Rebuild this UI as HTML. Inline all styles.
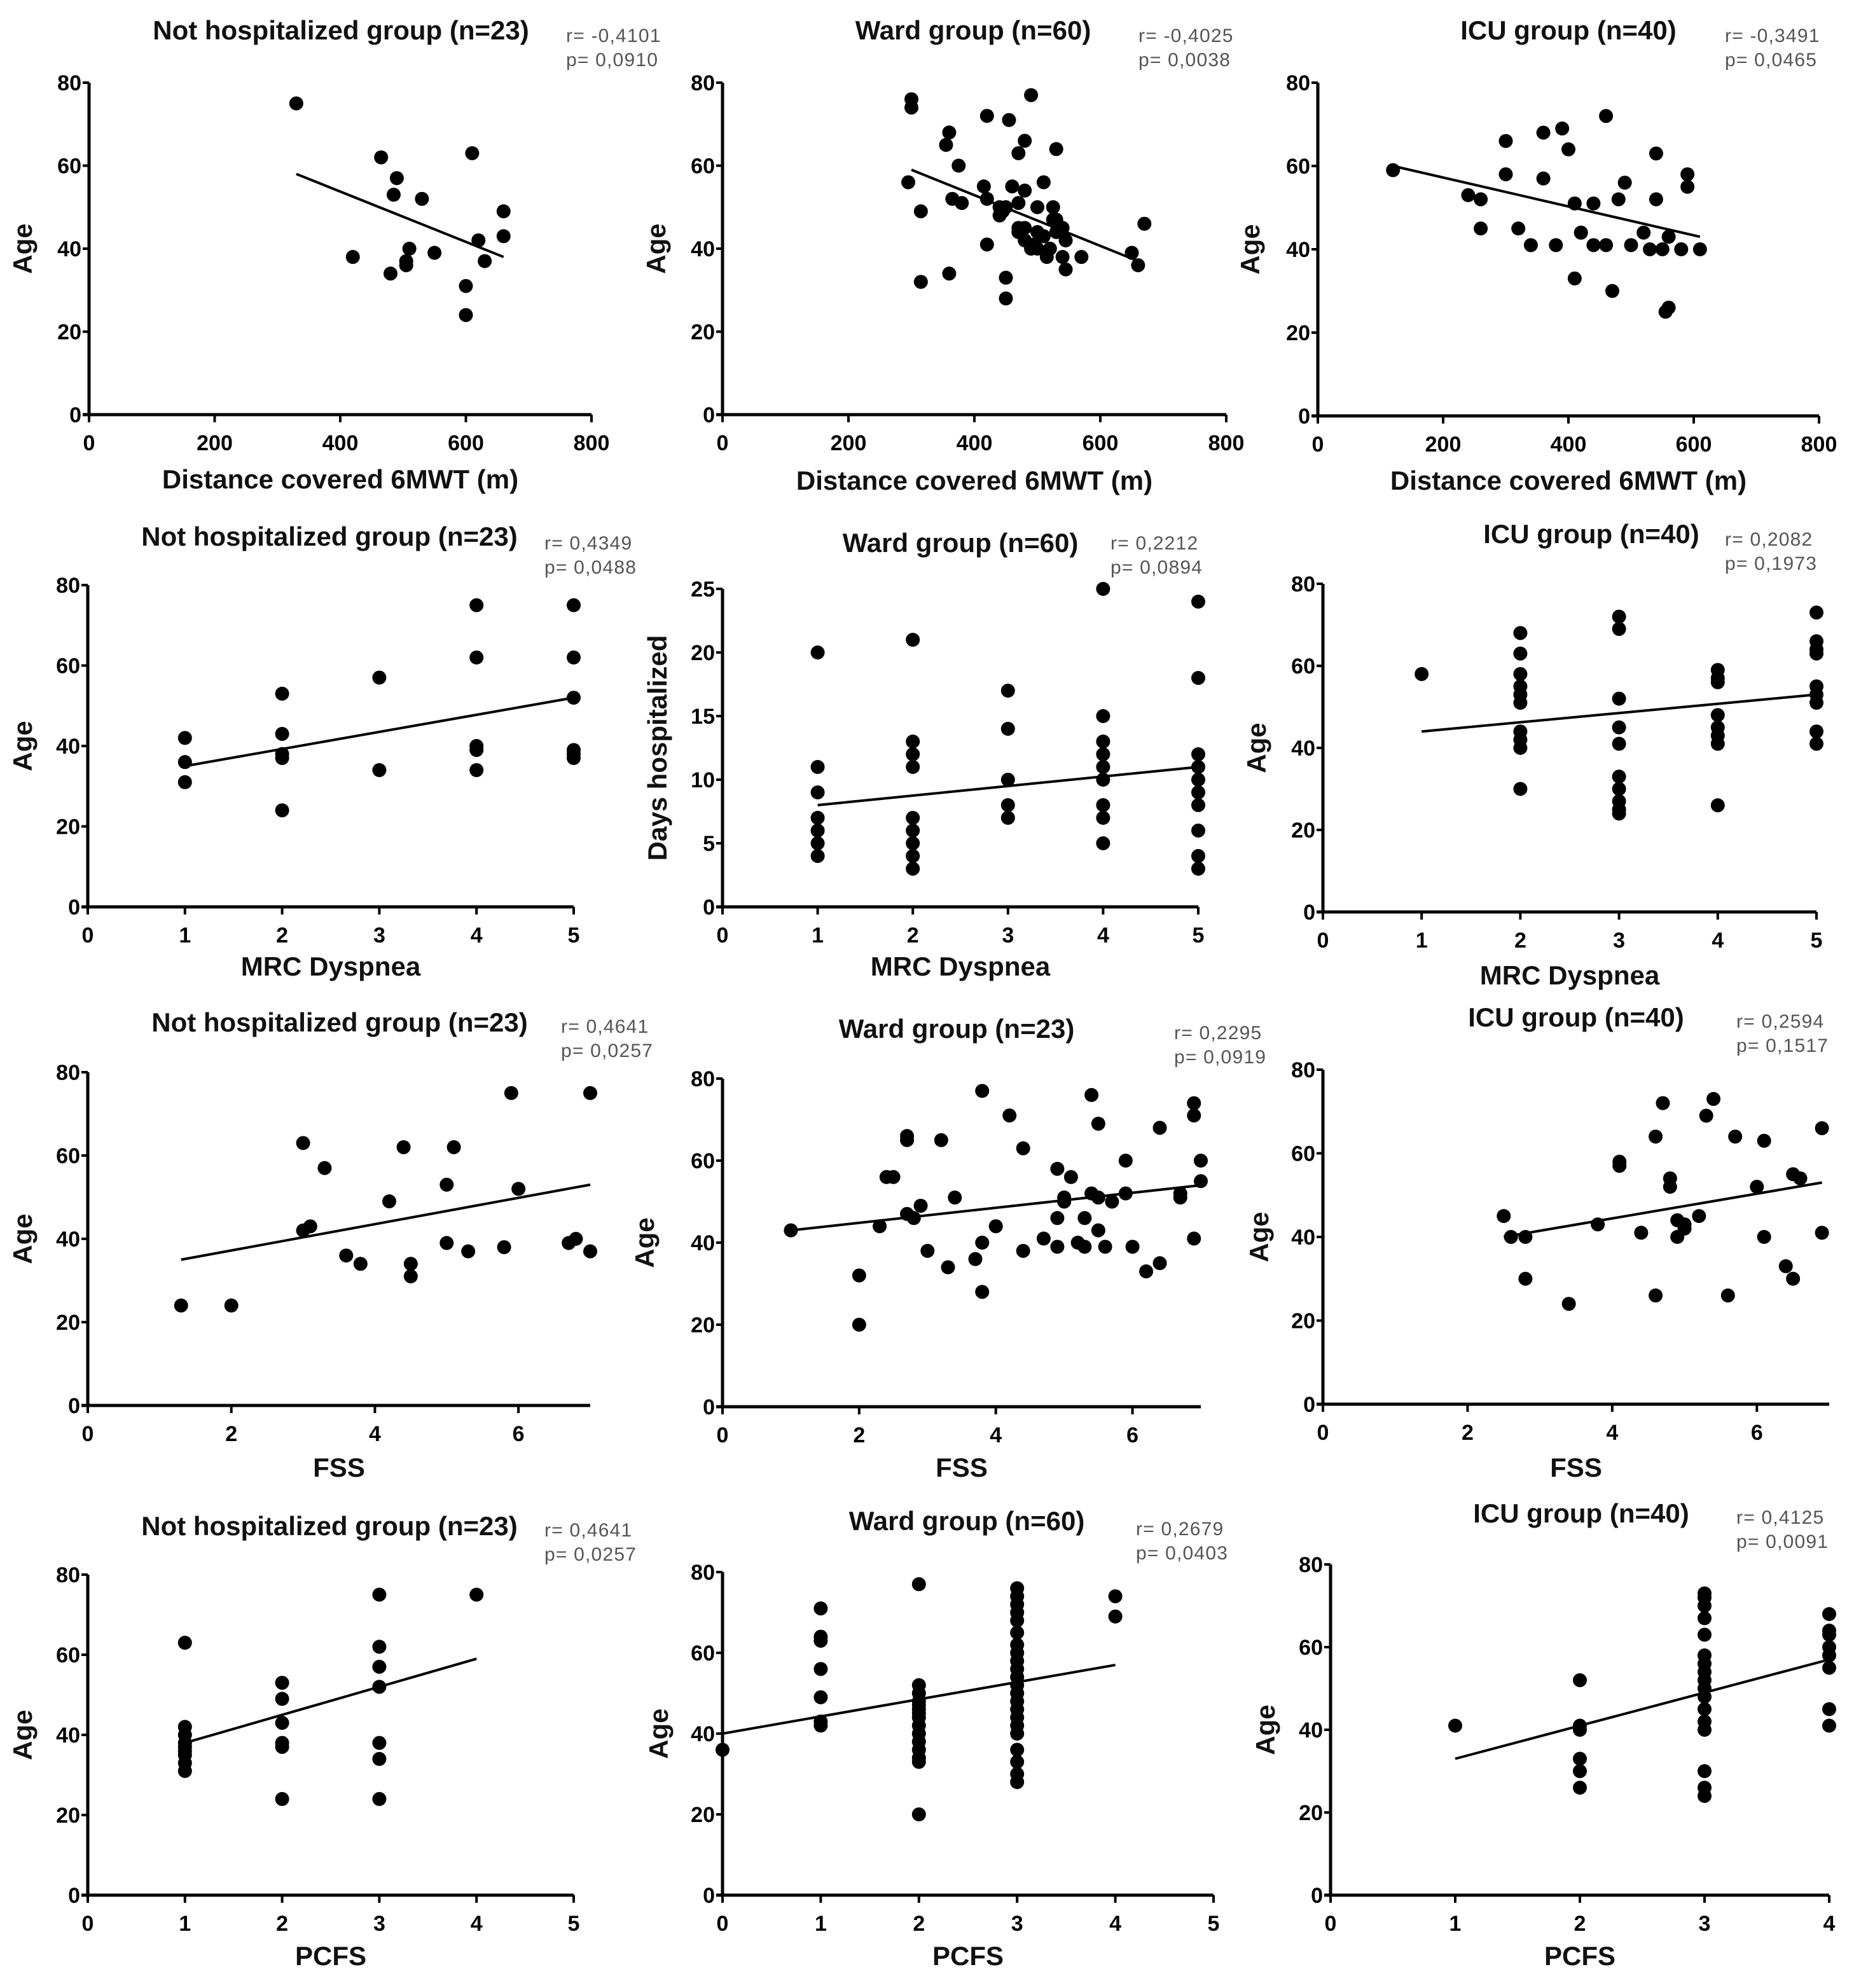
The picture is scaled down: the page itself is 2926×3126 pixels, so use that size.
<!DOCTYPE html>
<html><head><meta charset="utf-8"><style>
html,body{margin:0;padding:0;background:#fff;}
svg{display:block;}
text{font-family:"Liberation Sans",Arial,sans-serif;}
</style></head>
<body>
<svg id="fig" width="2926" height="3126" viewBox="0 0 1463 1563" xmlns="http://www.w3.org/2000/svg"></svg>
<script>
// ---- data (one set of small arrays per panel) ----
const p1X=[330,465,490,485,530,610,660,660,620,420,510,505,505,550,480,630,600,600];
const p1Y=[75,62,57,53,52,63,49,43,42,38,40,37,36,39,34,37,31,24];
const p1FitX=[330,660]; const p1FitY=[58,38];
const p2X=[300,300,360,355,420,455,490,470,480,295,315,315,375,365,380,360,415,420,420,445,440,460,470,480,500,510,530,525,530,540,520,540,545,545,470,480,490,500,510,480,450,450,570,650,660,670,440,450,500,530,525,515,470,495];
const p2Y=[76,74,68,65,72,71,77,63,66,56,49,32,60,52,51,34,55,52,41,49,50,55,51,54,50,56,64,50,47,45,40,38,35,42,44,42,40,40,43,45,33,28,38,39,36,46,48,50,44,44,47,38,45,41];
const p2FitX=[300,660]; const p2FitY=[59,37];
const p3X=[120,240,260,260,300,300,320,360,340,360,390,400,410,420,410,440,460,460,470,480,490,520,540,540,530,550,560,555,560,580,590,590,610,380,440,500,420];
const p3Y=[59,53,45,52,58,66,45,68,41,57,69,64,51,44,33,41,72,41,30,52,56,44,63,52,40,40,43,25,26,40,58,55,40,41,51,41,44];
const p3FitX=[120,610]; const p3FitY=[60,43];
const p4X=[1,1,1,2,2,2,2,2,3,3,4,4,4,4,4,5,5,5,5,5,5];
const p4Y=[42,36,31,53,43,37,38,24,57,34,75,62,40,39,34,75,62,52,39,37,38];
const p4FitX=[1,5]; const p4FitY=[35,52];
const p5X=[1,1,1,1,1,1,1,2,2,2,2,2,2,2,2,2,3,3,3,3,3,4,4,4,4,4,4,4,4,4,5,5,5,5,5,5,5,5,5,5];
const p5Y=[20,11,9,7,6,5,4,21,13,12,11,7,6,5,4,3,17,14,10,8,7,25,15,13,12,11,10,8,7,5,24,18,12,11,10,9,8,6,4,3];
const p5FitX=[1,5]; const p5FitY=[8,11];
const p6X=[1,2,2,2,2,2,2,2,2,2,2,3,3,3,3,3,3,3,3,3,3,4,4,4,4,4,4,4,4,5,5,5,5,5,5,5,5,5];
const p6Y=[58,68,63,58,55,53,51,44,42,40,30,72,69,52,45,41,33,30,27,25,24,59,57,56,48,45,43,41,26,73,66,64,63,55,53,51,44,41];
const p6FitX=[1,5]; const p6FitY=[44,53];
const p7X=[1.3,2,3,3,3.1,3.3,3.6,3.8,4.2,4.4,4.5,4.5,5,5,5.1,5.3,5.8,5.9,6,6.7,6.8,7,7];
const p7Y=[24,24,63,42,43,57,36,34,49,62,34,31,53,39,62,37,38,75,52,39,40,75,37];
const p7FitX=[1.3,7]; const p7FitY=[35,53];
const p8X=[1,2,2,2.3,2.4,2.5,2.7,2.7,2.7,2.8,2.9,3,3.2,3.3,3.4,3.7,3.8,3.8,3.8,4,4.2,4.4,4.4,4.7,4.9,4.9,4.9,5,5,5.1,5.2,5.3,5.3,5.4,5.4,5.5,5.5,5.5,5.6,5.7,5.9,5.9,6,6.2,6.4,6.4,6.7,6.7,6.9,6.9,6.9,7,7];
const p8Y=[43,32,20,44,56,56,66,65,47,46,49,38,65,34,51,36,77,40,28,44,71,38,63,41,58,46,39,50,51,56,40,39,46,52,76,51,43,69,39,50,60,52,39,33,35,68,51,52,74,71,41,60,55];
const p8FitX=[1,7]; const p8FitY=[43,54];
const p9X=[2.5,2.6,2.8,2.8,3.4,3.8,4.1,4.1,4.4,4.6,4.6,4.7,4.8,4.8,4.9,4.9,5,5,5.2,5.3,5.4,5.6,5.7,6,6.1,6.1,6.4,6.5,6.5,6.6,6.9,6.9];
const p9Y=[45,40,40,30,24,43,58,57,41,64,26,72,52,54,40,44,43,42,45,69,73,26,64,52,63,40,33,55,30,54,66,41];
const p9FitX=[2.5,6.9]; const p9FitY=[40,53];
const p10X=[1,1,1,1,1,1,1,1,1,2,2,2,2,2,2,3,3,3,3,3,3,3,4];
const p10Y=[63,42,40,38,37,36,35,33,31,53,49,43,38,37,24,75,62,57,52,38,34,24,75];
const p10FitX=[1,4]; const p10FitY=[38,59];
const p11X=[0,1,1,1,1,1,1,1,2,2,2,2,2,2,2,2,2,2,2,2,2,2,2,3,3,3,3,3,3,3,3,3,3,3,3,3,3,3,3,3,3,3,3,3,3,4,4];
const p11Y=[36,71,64,63,56,49,43,42,77,52,50,48,46,44,42,40,38,36,34,33,20,47,45,76,74,72,70,68,65,62,60,58,56,54,52,50,48,46,44,42,40,36,33,30,28,74,69];
const p11FitX=[0,4]; const p11FitY=[40,57];
const p12X=[1,2,2,2,2,2,2,3,3,3,3,3,3,3,3,3,3,3,3,3,3,3,3,3,4,4,4,4,4,4,4,4];
const p12Y=[41,52,41,40,33,30,26,73,72,70,67,63,58,56,54,52,50,48,45,42,40,30,26,24,68,64,63,60,58,55,45,41];
const p12FitX=[1,4]; const p12FitY=[33,57];
const ageTicks=[0,20,40,60,80];
const daysTicks=[0,5,10,15,20,25];
const distTicks=[0,200,400,600,800];
const mrcTicks=[0,1,2,3,4,5];
const fssTicks=[0,2,4,6];
const pcfsTicks=[0,1,2,3,4,5];
const pcfsTicks4=[0,1,2,3,4];

// ---- layout ----
const panels=[
 {n:1,xs:p1X,ys:p1Y,fx:p1FitX,fy:p1FitY,x0:70,x1:465,xmax:800,y0:326,y1:65,ymax:80,xt:distTicks,yt:ageTicks,title:"Not hospitalized group (n=23)",tx:268,ty:31,r:"r= -0,4101",p:"p= 0,0910",sx:445,sy:33,xl:"Distance covered 6MWT (m)",xly:384,yl:"Age",ylx:25},
 {n:2,xs:p2X,ys:p2Y,fx:p2FitX,fy:p2FitY,x0:568,x1:964,xmax:800,y0:326,y1:65,ymax:80,xt:distTicks,yt:ageTicks,title:"Ward group (n=60)",tx:765,ty:31,r:"r= -0,4025",p:"p= 0,0038",sx:895,sy:33,xl:"Distance covered 6MWT (m)",xly:385,yl:"Age",ylx:523},
 {n:3,xs:p3X,ys:p3Y,fx:p3FitX,fy:p3FitY,x0:1036,x1:1430,xmax:800,y0:327,y1:65,ymax:80,xt:distTicks,yt:ageTicks,title:"ICU group (n=40)",tx:1233,ty:31,r:"r= -0,3491",p:"p= 0,0465",sx:1356,sy:33,xl:"Distance covered 6MWT (m)",xly:385,yl:"Age",ylx:990},
 {n:4,xs:p4X,ys:p4Y,fx:p4FitX,fy:p4FitY,x0:69,x1:451,xmax:5,y0:713,y1:460,ymax:80,xt:mrcTicks,yt:ageTicks,title:"Not hospitalized group (n=23)",tx:259,ty:429,r:"r= 0,4349",p:"p= 0,0488",sx:428,sy:432,xl:"MRC Dyspnea",xly:767,yl:"Age",ylx:25},
 {n:5,xs:p5X,ys:p5Y,fx:p5FitX,fy:p5FitY,x0:568,x1:942,xmax:5,y0:713,y1:463,ymax:25,xt:mrcTicks,yt:daysTicks,title:"Ward group (n=60)",tx:755,ty:434,r:"r= 0,2212",p:"p= 0,0894",sx:873,sy:432,xl:"MRC Dyspnea",xly:767,yl:"Days hospitalized",ylx:524},
 {n:6,xs:p6X,ys:p6Y,fx:p6FitX,fy:p6FitY,x0:1040,x1:1428,xmax:5,y0:717,y1:459,ymax:80,xt:mrcTicks,yt:ageTicks,title:"ICU group (n=40)",tx:1251,ty:427,r:"r= 0,2082",p:"p= 0,1973",sx:1356,sy:429,xl:"MRC Dyspnea",xly:774,yl:"Age",ylx:995},
 {n:7,xs:p7X,ys:p7Y,fx:p7FitX,fy:p7FitY,x0:69,x1:464,xmax:7,y0:1105,y1:843,ymax:80,xt:fssTicks,yt:ageTicks,title:"Not hospitalized group (n=23)",tx:267,ty:811,r:"r= 0,4641",p:"p= 0,0257",sx:441,sy:812,xl:"FSS",xly:1161,yl:"Age",ylx:25},
 {n:8,xs:p8X,ys:p8Y,fx:p8FitX,fy:p8FitY,x0:568,x1:944,xmax:7,y0:1106,y1:848,ymax:80,xt:fssTicks,yt:ageTicks,title:"Ward group (n=23)",tx:752,ty:816,r:"r= 0,2295",p:"p= 0,0919",sx:923,sy:817,xl:"FSS",xly:1161,yl:"Age",ylx:514},
 {n:9,xs:p9X,ys:p9Y,fx:p9FitX,fy:p9FitY,x0:1040,x1:1438,xmax:7,y0:1104,y1:841,ymax:80,xt:fssTicks,yt:ageTicks,title:"ICU group (n=40)",tx:1239,ty:807,r:"r= 0,2594",p:"p= 0,1517",sx:1365,sy:808,xl:"FSS",xly:1161,yl:"Age",ylx:997},
 {n:10,xs:p10X,ys:p10Y,fx:p10FitX,fy:p10FitY,x0:69,x1:451,xmax:5,y0:1490,y1:1238,ymax:80,xt:pcfsTicks,yt:ageTicks,title:"Not hospitalized group (n=23)",tx:259,ty:1207,r:"r= 0,4641",p:"p= 0,0257",sx:428,sy:1208,xl:"PCFS",xly:1545,yl:"Age",ylx:25},
 {n:11,xs:p11X,ys:p11Y,fx:p11FitX,fy:p11FitY,x0:568,x1:954,xmax:5,y0:1490,y1:1236,ymax:80,xt:pcfsTicks,yt:ageTicks,title:"Ward group (n=60)",tx:760,ty:1203,r:"r= 0,2679",p:"p= 0,0403",sx:893,sy:1207,xl:"PCFS",xly:1545,yl:"Age",ylx:525},
 {n:12,xs:p12X,ys:p12Y,fx:p12FitX,fy:p12FitY,x0:1046,x1:1438,xmax:4,y0:1490,y1:1230,ymax:80,xt:pcfsTicks4,yt:ageTicks,title:"ICU group (n=40)",tx:1243,ty:1197,r:"r= 0,4125",p:"p= 0,0091",sx:1365,sy:1198,xl:"PCFS",xly:1545,yl:"Age",ylx:1002}
];
const NS="http://www.w3.org/2000/svg";
const svg=document.getElementById('fig');
function mk(tag,attrs,parent,txt){const e=document.createElementNS(NS,tag);for(const k in attrs)e.setAttribute(k,attrs[k]);if(txt!==undefined)e.textContent=txt;parent.appendChild(e);return e;}
panels.forEach(P=>{
  const g=mk('g',{},svg);
  
  
  const sx=v=>P.x0+(P.x1-P.x0)*v/P.xmax;
  const sy=v=>P.y0-(P.y0-P.y1)*v/P.ymax;
  const t=mk('text',{x:P.tx,y:P.ty,'text-anchor':'middle','font-size':21,'font-weight':'bold',fill:'#111'},g,P.title);
  
  
  const st=mk('text',{x:P.sx,y:P.sy,'font-size':15,'letter-spacing':0.6,fill:'#555'},g,P.r);
  
  
  const sp=mk('text',{x:P.sx,y:P.sy+19,'font-size':15,'letter-spacing':0.6,fill:'#555'},g,P.p);
  
  
  const ya=mk('line',{x1:P.x0,y1:P.y0,x2:P.x0,y2:P.y1,stroke:'#000','stroke-width':2.5},g);
  
  
  const xa=mk('line',{x1:P.x0-5,y1:P.y0,x2:P.x1,y2:P.y0,stroke:'#000','stroke-width':2.5},g);
  
  
  P.yt.forEach(v=>{
    mk('line',{x1:P.x0-5,y1:sy(v),x2:P.x0,y2:sy(v),stroke:'#000','stroke-width':2},g);
    const l=mk('text',{x:P.x0-6,y:sy(v)+6,'text-anchor':'end','font-size':17,'font-weight':'bold'},g,String(v));
    
    
  });
  P.xt.forEach(v=>{
    mk('line',{x1:sx(v),y1:P.y0,x2:sx(v),y2:P.y0+6,stroke:'#000','stroke-width':2},g);
    const l=mk('text',{x:sx(v),y:P.y0+28,'text-anchor':'middle','font-size':17,'font-weight':'bold'},g,String(v));
    
    
  });
  const xl=mk('text',{x:(P.x0+P.x1)/2,y:P.xly,'text-anchor':'middle','font-size':21,'font-weight':'bold',fill:'#111'},g,P.xl);
  
  
  const yc=(P.y0+P.y1)/2;
  const yl=mk('text',{x:P.ylx,y:yc,'text-anchor':'middle','font-size':21,'font-weight':'bold',fill:'#111',transform:'rotate(-90 '+P.ylx+' '+yc+')'},g,P.yl);
  
  
  P.xs.forEach((x,i)=>{
    const c=mk('circle',{cx:sx(x),cy:sy(P.ys[i]),r:5.5,fill:'#000'},g);
    
    
  });
  const fl=mk('line',{x1:sx(P.fx[0]),y1:sy(P.fy[0]),x2:sx(P.fx[1]),y2:sy(P.fy[1]),stroke:'#000','stroke-width':2},g);
  
  
});
</script>
</body></html>
